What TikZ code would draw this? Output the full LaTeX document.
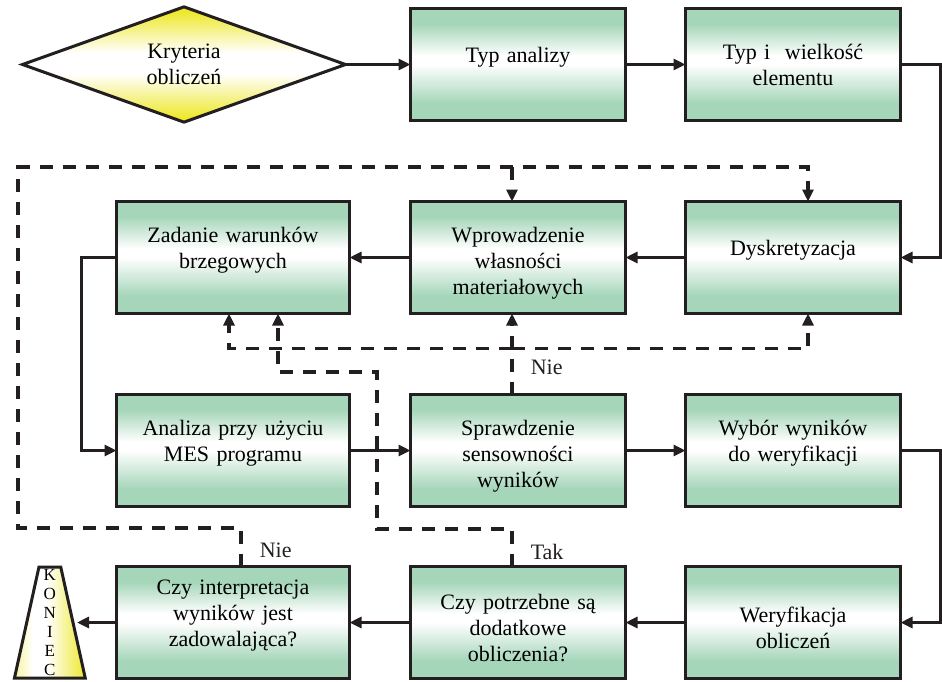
\documentclass[tikz,border=0pt]{standalone}
\usepackage{fontspec}
\setmainfont{Liberation Serif}
\usepackage{tikz}
\usetikzlibrary{arrows.meta,shapes.geometric,positioning,calc}

\definecolor{boxgreen}{RGB}{166,214,186}
\definecolor{startyellow}{RGB}{238,232,44}
\colorlet{paleyellow}{startyellow!45}
\definecolor{linegray}{RGB}{35,31,32}

\pgfdeclareverticalshading{greenband}{100bp}{color(0bp)=(boxgreen); color(33bp)=(boxgreen); color(50bp)=(white); color(54bp)=(white); color(68bp)=(boxgreen); color(100bp)=(boxgreen)}
\pgfdeclareverticalshading{yellowband}{100bp}{color(0bp)=(startyellow); color(27bp)=(startyellow); color(46bp)=(white); color(55bp)=(white); color(73bp)=(startyellow); color(100bp)=(startyellow)}
\pgfdeclarehorizontalshading{yellowside}{100bp}{color(0bp)=(paleyellow); color(25bp)=(paleyellow); color(38bp)=(white); color(48bp)=(white); color(75bp)=(startyellow); color(100bp)=(startyellow)}

\begin{document}
\begin{tikzpicture}[
    box/.style={rectangle, draw=linegray, line width=3pt, outer sep=0pt, shade, shading=greenband, align=center, inner sep=0pt, text width=195pt, minimum width=215pt, minimum height=112pt, font=\fontsize{22}{26}\selectfont},
    widebox/.style={box, text width=215pt, minimum width=233pt},
    textup/.style={execute at end node={\rule[-19pt]{0pt}{0pt}}},
    textdown/.style={execute at begin node={\rule{0pt}{27pt}}},
    startnode/.style={diamond, draw=linegray, line width=3pt, outer sep=0pt, shade, shading=yellowband, align=center, inner sep=0pt, minimum width=323pt, minimum height=113pt, font=\fontsize{22}{26}\selectfont},
    endnode/.style={trapezium, trapezium left angle=82.6, trapezium right angle=82.6, trapezium stretches=true, draw=linegray, line width=3pt, outer sep=0pt, shade, shading=yellowside, align=center, inner sep=0pt, minimum width=71pt, minimum height=111pt, font=\fontsize{17}{19}\selectfont},
    flow/.style={draw=linegray, line width=3pt, -{Triangle[length=12pt,width=11pt]}},
    dashline/.style={flow, line width=3.5pt, dash pattern=on 13pt off 10pt},
    answer/.style={right=17pt, font=\fontsize{22}{26}\selectfont, inner sep=0pt, text=linegray},
    ]
    \useasboundingbox (0,0) rectangle (942pt,-681pt);

    %Nodes
    \node[startnode]       (kryteria)      at (184pt,-64.5pt)               {Kryteria\\obliczeń};
    \node[box, textup]     (typ_analizy)   [right=65pt of kryteria]         {Typ analizy};
    \node[box]             (typ_elementu)  [right=60pt of typ_analizy]      {Typ i~ wielkość\\elementu};
    \node[box, textup]     (dyskretyzacja) [below=81pt of typ_elementu]     {Dyskretyzacja};
    \node[box, textdown]   (wlasnosci)     [left=60pt of dyskretyzacja]     {Wprowadzenie\\własności\\materiałowych};
    \node[widebox, textup] (warunki)       [left=61pt of wlasnosci]         {Zadanie warunków\\brzegowych};
    \node[widebox, textup] (analiza)       [below=81pt of warunki]          {Analiza przy użyciu\\MES programu};
    \node[box, textdown]   (sprawdzenie)   [below=81pt of wlasnosci]        {Sprawdzenie\\sensowności\\wyników};
    \node[box, textup]     (wybor)         [below=81pt of dyskretyzacja]    {Wybór wyników\\do weryfikacji};
    \node[box, textdown]   (weryfikacja)   [below=60pt of wybor]            {Weryfikacja\\obliczeń};
    \node[box, textdown]   (dodatkowe)     [below=60pt of sprawdzenie]      {Czy potrzebne są\\dodatkowe\\obliczenia?};
    \node[widebox, textup] (interpretacja) [below=60pt of analiza]          {Czy interpretacja\\wyników jest\\zadowalająca?};
    \node[endnode]         (koniec)        [left=43.5pt of interpretacja]   {K\\O\\N\\I\\E\\C};

    %Coordinates
    \coordinate (wl_top)     at ([xshift=-6pt]wlasnosci.north);
    \coordinate (wl_bottom)  at ([xshift=-6pt]wlasnosci.south);
    \coordinate (dys_top)    at ([xshift=15pt]dyskretyzacja.north);
    \coordinate (dys_bottom) at ([xshift=15pt]dyskretyzacja.south);
    \coordinate (war_left)   at ([xshift=-4pt]warunki.south);
    \coordinate (war_right)  at ([xshift=45pt]warunki.south);
    \coordinate (spr_top)    at ([xshift=-6pt]sprawdzenie.north);
    \coordinate (dod_top)    at ([xshift=-6pt]dodatkowe.north);
    \coordinate (int_top)    at ([xshift=8pt]interpretacja.north);
    \coordinate (nie_split)  at ([yshift=-35pt]wl_bottom);
    \coordinate (loop_low)   at (18pt,-528pt);
    \coordinate (loop_high)  at (18pt,-167pt);
    \coordinate (tak_low)    at (377pt,-529pt);
    \coordinate (tak_high)   at (377pt,-372pt);

    %Lines
    \draw[flow] (kryteria.east)      -- (typ_analizy.west);
    \draw[flow] (typ_analizy.east)   -- (typ_elementu.west);
    \draw[flow] (typ_elementu.east)  -- ++(39.5pt,0) |- (dyskretyzacja.east);
    \draw[flow] (dyskretyzacja.west) -- (wlasnosci.east);
    \draw[flow] (wlasnosci.west)     -- (warunki.east);
    \draw[flow] (warunki.west)       -- ++(-35pt,0) |- (analiza.west);
    \draw[flow] (analiza.east)       -- (sprawdzenie.west);
    \draw[flow] (sprawdzenie.east)   -- (wybor.west);
    \draw[flow] (wybor.east)         -- ++(39.5pt,0) |- (weryfikacja.east);
    \draw[flow] (weryfikacja.west)   -- (dodatkowe.east);
    \draw[flow] (dodatkowe.west)     -- (interpretacja.east);
    \draw[flow, shorten >=4pt] (interpretacja.west) -- (koniec.east);

    %Dashed lines
    \draw[dashline] (spr_top)   -- node[answer, pos=0.33] {Nie} (wl_bottom);
    \draw[dashline] (nie_split) -| (war_left);
    \draw[dashline] (nie_split) -| (dys_bottom);
    \draw[dashline] (dod_top)   -- node[answer, pos=0.4] {Tak} (dod_top |- tak_low) -- (tak_low) -- (tak_high) -| (war_right);
    \draw[dashline] (int_top)   -- node[answer, pos=0.43] {Nie} (int_top |- loop_low) -- (loop_low) -- (loop_high) -| (dys_top);
    \draw[dashline] (loop_high -| wl_top) -- (wl_top);
\end{tikzpicture}
\end{document}
